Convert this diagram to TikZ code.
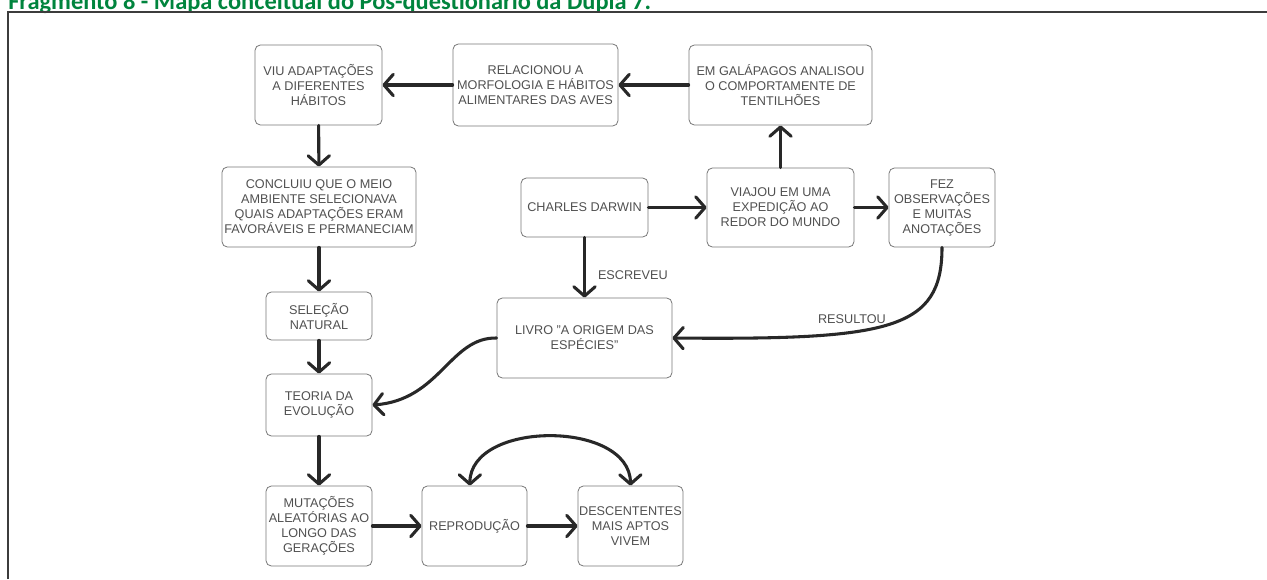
\documentclass[tikz,border=0pt]{standalone}
\usepackage{fontspec}
\setmainfont{Liberation Sans}
\newfontfamily\titlefont{Carlito}
\usetikzlibrary{arrows.meta}
\definecolor{titlegreen}{RGB}{0,132,61}
\definecolor{boxgray}{RGB}{120,120,120}
\definecolor{txtgray}{RGB}{80,80,80}
\definecolor{linegray}{RGB}{40,40,40}
\definecolor{framegray}{RGB}{60,60,60}
\tikzset{
  box/.style={draw=boxgray, rounded corners=4pt, line width=0.6pt, text=txtgray,
    font=\fontsize{9.5}{11.25}\selectfont, align=center, inner sep=0pt},
  sz/.style 2 args={minimum width=#1*0.75pt, minimum height=#2*0.75pt},
  conn/.style={draw=linegray, line width=2.3pt, line cap=round,
    -{Straight Barb[length=7pt,width=16pt,line cap=round,line join=round]}},
  biconn/.style={draw=linegray, line width=2.3pt, line cap=round,
    {Straight Barb[length=7pt,width=16pt,line cap=round,line join=round]}-{Straight Barb[length=7pt,width=16pt,line cap=round,line join=round]}},
  lab/.style={text=txtgray, font=\fontsize{9.5}{11.25}\selectfont, inner sep=0pt},
}
\begin{document}
\begin{tikzpicture}[x=0.75pt,y=-0.75pt]
\useasboundingbox (0,0) rectangle (1267,579);
% title and frame
\node[anchor=base west, inner sep=0pt, text=titlegreen, font=\titlefont\bfseries\fontsize{18.3}{20}\selectfont] (title) at (8,9.5) {Fragmento 8 - Mapa conceitual do Pós-questionário da Dupla 7.};
\draw[framegray, line width=1.5pt] (8,579) -- (8,12) -- (1268,12);
% boxes
\node[box, sz={127}{80}] (viu) at (318.5,85) {VIU ADAPTAÇÕES\\A DIFERENTES\\HÁBITOS};
\node[box, sz={165}{82}] (rel) at (535.5,85) {RELACIONOU A\\MORFOLOGIA E HÁBITOS\\ALIMENTARES DAS AVES};
\node[box, sz={183}{80}] (em) at (780.5,85) {EM GALÁPAGOS ANALISOU\\O COMPORTAMENTE DE\\TENTILHÕES};
\node[box, sz={194}{80}] (conc) at (319,207) {CONCLUIU QUE O MEIO\\AMBIENTE SELECIONAVA\\QUAIS ADAPTAÇÕES ERAM\\FAVORÁVEIS E PERMANECIAM};
\node[box, sz={127}{59}] (cd) at (584.5,207.5) {CHARLES DARWIN};
\node[box, sz={147}{79}] (via) at (780.5,207.5) {VIAJOU EM UMA\\EXPEDIÇÃO AO\\REDOR DO MUNDO};
\node[box, sz={106}{79}] (fez) at (942,207.5) {FEZ\\OBSERVAÇÕES\\E MUITAS\\ANOTAÇÕES};
\node[box, sz={106}{48}] (sel) at (319,316) {SELEÇÃO\\NATURAL};
\node[box, sz={175}{80}] (liv) at (584.5,338) {LIVRO "A ORIGEM DAS\\ESPÉCIES"};
\node[box, sz={106}{62}] (teo) at (319,405) {TEORIA DA\\EVOLUÇÃO};
\node[box, sz={106}{80}] (mut) at (319,526) {MUTAÇÕES\\ALEATÓRIAS AO\\LONGO DAS\\GERAÇÕES};
\node[box, sz={105}{80}] (rep) at (474.5,526) {REPRODUÇÃO};
\node[box, sz={105}{80}] (des) at (630.5,526) {DESCENTENTES\\MAIS APTOS\\VIVEM};
% connectors
\draw[conn] (em) -- (rel);
\draw[conn] (rel) -- (viu);
\draw[conn] (viu) -- (conc);
\draw[conn] (conc) -- (sel);
\draw[conn] (sel) -- (teo);
\draw[conn] (teo) -- (mut);
\draw[conn] (mut) -- (rep);
\draw[conn] (rep) -- (des);
\draw[biconn] ([xshift=-3.5pt]rep.north) .. controls (470,420) and (630,420) .. (des.north);
\draw[conn] (cd) -- (via);
\draw[conn] (via) -- (fez);
\draw[conn] (via) -- (em);
\draw[conn] (cd) -- node[lab, pos=0.62, anchor=west, xshift=9pt] (escreveu) {ESCREVEU} (liv);
\draw[conn] (fez.south) .. controls (942,330) and (890,340) .. node[lab, pos=0.6, xshift=-7pt, yshift=9pt] (resultou) {RESULTOU} (liv.east);
\draw[conn] (liv.west) .. controls (450,337) and (440,400) .. (teo.east);
\end{tikzpicture}
\end{document}
